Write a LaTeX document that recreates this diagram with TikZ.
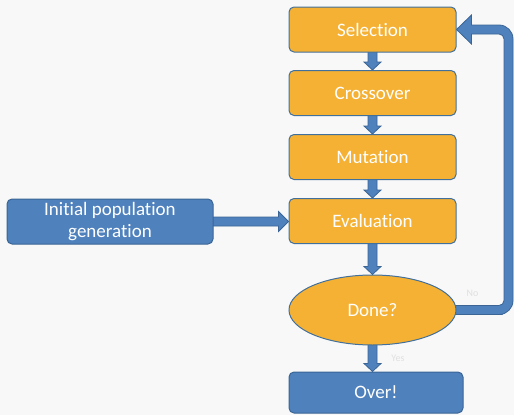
\documentclass[tikz,border=0pt]{standalone}
\usepackage{fontspec}
\setmainfont[Ligatures={NoCommon}]{Carlito}
\usetikzlibrary{calc,shapes.geometric}
\definecolor{bgc}{HTML}{F8F8F8}
\definecolor{orfill}{HTML}{F5B133}
\definecolor{orline}{HTML}{42709C}
\definecolor{blfill}{HTML}{4F81BD}
\definecolor{blline}{HTML}{3A6595}
\definecolor{lbl}{HTML}{E0E0E0}
\pgfdeclarelayer{bglayer}
\pgfdeclarelayer{arrowlayer}
\pgfsetlayers{bglayer,arrowlayer,main}
\tikzset{
 orbox/.style={draw=orline, line width=1pt, fill=orfill, rounded corners=5pt,
   minimum width=167pt, minimum height=45pt, inner sep=0pt, text=white,
   font=\fontsize{19}{22}\selectfont, align=center},
 blbox/.style={orbox, fill=blfill, draw=blline},
 blockarrow/.style={fill=blfill, draw=blline, line width=0.8pt, line join=miter},
 lab/.style={text=lbl, font=\fontsize{10}{12}\selectfont, inner sep=0pt}
}
\newcommand{\vbarrow}[2]{%
 \path (#1.south |- #2.north) coordinate (vtip);
 \filldraw[blockarrow] ($(#1.south)+(-4.5,-3)$) -- ($(vtip)+(-4.5,-8)$) -- ($(vtip)+(-8.5,-8)$)
   -- (vtip) -- ($(vtip)+(8.5,-8)$) -- ($(vtip)+(4.5,-8)$) -- ($(#1.south)+(4.5,-3)$) -- cycle;}
\begin{document}
\begin{tikzpicture}[x=1pt,y=-1pt]
\begin{pgfonlayer}{bglayer}
\fill[bgc] (0,0) rectangle (514,415);
\end{pgfonlayer}
\useasboundingbox (0,0) rectangle (514,415);
\node[orbox] (sel) at (372.5,29.5) {Selection};
\node[orbox] (cross) at (372.5,93) {Crossover};
\node[orbox] (mut) at (372.5,157) {Mutation};
\node[orbox] (eval) at (372.5,221) {Evaluation};
\node[orbox, sharp corners, ellipse, minimum width=167pt, minimum height=70pt] (done) at (372.5,310) {Done?};
\node[blbox, minimum width=174pt, minimum height=41pt] (over) at (376,392.5) {Over!};
\node[blbox, minimum width=206pt, minimum height=45pt] (init) at (110,221.5) {Initial population\\generation};
\node[lab] (no) at (472.5,293) {No};
\node[lab] (yes) at (398,358) {Yes};
\begin{pgfonlayer}{arrowlayer}
\vbarrow{sel}{cross}
\vbarrow{cross}{mut}
\vbarrow{mut}{eval}
\vbarrow{eval}{done}
\vbarrow{done}{over}
\path (eval.west |- init.east) coordinate (htip);
\filldraw[blockarrow] ($(init.east)+(-3,-4.5)$) -- ($(htip)+(-10,-4.5)$) -- ($(htip)+(-10,-10)$)
  -- (htip) -- ($(htip)+(-10,10)$) -- ($(htip)+(-10,4.5)$) -- ($(init.east)+(-3,4.5)$) -- cycle;
\coordinate (fb1) at ($(done.east)+(52,0)$);
\coordinate (fb2) at (fb1 |- sel.east);
\filldraw[blockarrow]
 ($(done.east)+(-10,-4.5)$) [rounded corners=5pt]
 -- ($(fb1)+(-4.5,-4.5)$)
 -- ($(fb2)+(-4.5,4.5)$)
 -- ($(fb2)+(-20,4.5)$) [sharp corners]
 -- ($(sel.east)+(15,4.5)$)
 -- ($(sel.east)+(15,14.5)$)
 -- (sel.east)
 -- ($(sel.east)+(15,-14.5)$)
 -- ($(sel.east)+(15,-4.5)$)
 -- ($(fb2)+(-20,-4.5)$) [rounded corners=14pt]
 -- ($(fb2)+(4.5,-4.5)$)
 -- ($(fb1)+(4.5,4.5)$)
 -- ($(fb1)+(-20,4.5)$) [sharp corners]
 -- ($(done.east)+(-10,4.5)$) -- cycle;
\end{pgfonlayer}
\end{tikzpicture}
\end{document}
